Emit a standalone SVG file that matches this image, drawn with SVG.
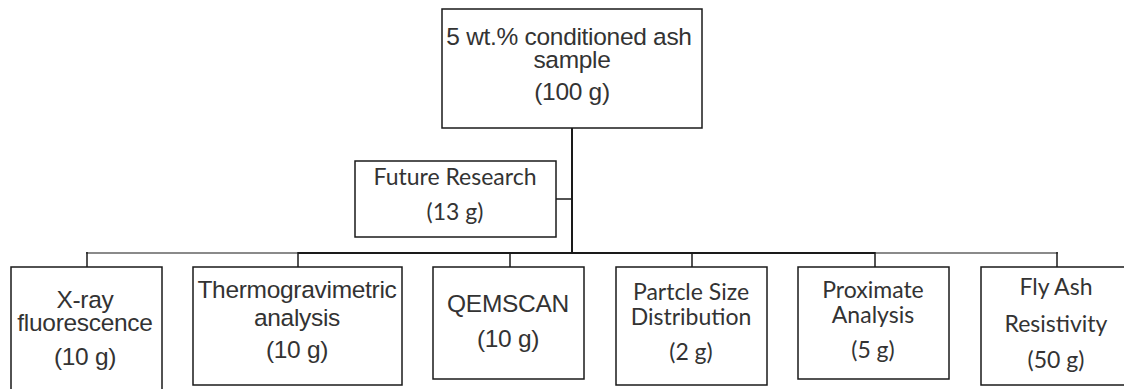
<svg xmlns="http://www.w3.org/2000/svg" width="1124" height="389" viewBox="0 0 1124 389">
  <style>
    .box { fill: #ffffff; stroke: #1a1a1a; stroke-width: 1.5; }
    .line { stroke: #1a1a1a; stroke-width: 2; fill: none; }
    .line-soft { stroke: #8a8a8a; stroke-width: 2; fill: none; }
    .stub { stroke: #1a1a1a; stroke-width: 1.5; fill: none; }
    .arial { font-family: "Liberation Sans", Arial, sans-serif; font-size: 24.5px; fill: #333333; text-anchor: middle; letter-spacing: -0.3px; }
    .cal { font-family: Lato, "Noto Sans", sans-serif; font-size: 23px; fill: #333333; text-anchor: middle; }
  </style>
  <rect width="1124" height="389" fill="#ffffff"/>

  <!-- connectors -->
  <g id="connectors">
    <line class="line" x1="572" y1="128" x2="572" y2="253"/>
    <line class="stub" x1="556" y1="199" x2="572" y2="199"/>
    <line class="line-soft" x1="86" y1="253" x2="298" y2="253"/>
    <line class="line" x1="298" y1="253" x2="875" y2="253"/>
    <line class="line-soft" x1="875" y1="253" x2="1058" y2="253"/>
    <line class="stub" x1="87" y1="252" x2="87" y2="267"/>
    <line class="stub" x1="298" y1="252" x2="298" y2="267"/>
    <line class="stub" x1="510" y1="252" x2="510" y2="267"/>
    <line class="stub" x1="692" y1="252" x2="692" y2="267"/>
    <line class="stub" x1="875" y1="252" x2="875" y2="267"/>
    <line class="stub" x1="1057" y1="252" x2="1057" y2="267"/>
  </g>

  <g id="node-sample">
    <rect class="box" x="442" y="9" width="260" height="119"/>
    <text class="arial" x="569" y="45">5 wt.% conditioned ash</text>
    <text class="arial" x="572" y="68">sample</text>
    <text class="arial" x="572" y="100">(100 g)</text>
  </g>

  <g id="node-future">
    <rect class="box" x="355" y="161" width="201" height="76"/>
    <text class="cal" x="455" y="185">Future Research</text>
    <text class="cal" x="455" y="220">(13 g)</text>
  </g>

  <g id="node-xrf">
    <rect class="box" x="11" y="267" width="151" height="130"/>
    <text class="arial" x="85" y="308">X-ray</text>
    <text class="arial" x="85" y="331">fluorescence</text>
    <text class="arial" x="85" y="365">(10 g)</text>
  </g>

  <g id="node-tga">
    <rect class="box" x="193" y="267" width="209" height="118"/>
    <text class="arial" x="297" y="298">Thermogravimetric</text>
    <text class="arial" x="297" y="326">analysis</text>
    <text class="arial" x="297" y="358">(10 g)</text>
  </g>

  <g id="node-qemscan">
    <rect class="box" x="433" y="267" width="151" height="112"/>
    <text class="arial" x="508" y="312">QEMSCAN</text>
    <text class="arial" x="508" y="347">(10 g)</text>
  </g>

  <g id="node-psd">
    <rect class="box" x="616" y="267" width="151" height="118"/>
    <text class="cal" x="691" y="300">Partcle Size</text>
    <text class="cal" x="691" y="325">Distribution</text>
    <text class="cal" x="691" y="360">(2 g)</text>
  </g>

  <g id="node-proximate">
    <rect class="box" x="798" y="267" width="151" height="112"/>
    <text class="cal" x="873" y="298">Proximate</text>
    <text class="cal" x="873" y="323">Analysis</text>
    <text class="cal" x="873" y="358">(5 g)</text>
  </g>

  <g id="node-resistivity">
    <rect class="box" x="981" y="267" width="150" height="118"/>
    <text class="cal" x="1056" y="295">Fly Ash</text>
    <text class="cal" x="1056" y="332">Resistivity</text>
    <text class="cal" x="1056" y="368">(50 g)</text>
  </g>
</svg>
